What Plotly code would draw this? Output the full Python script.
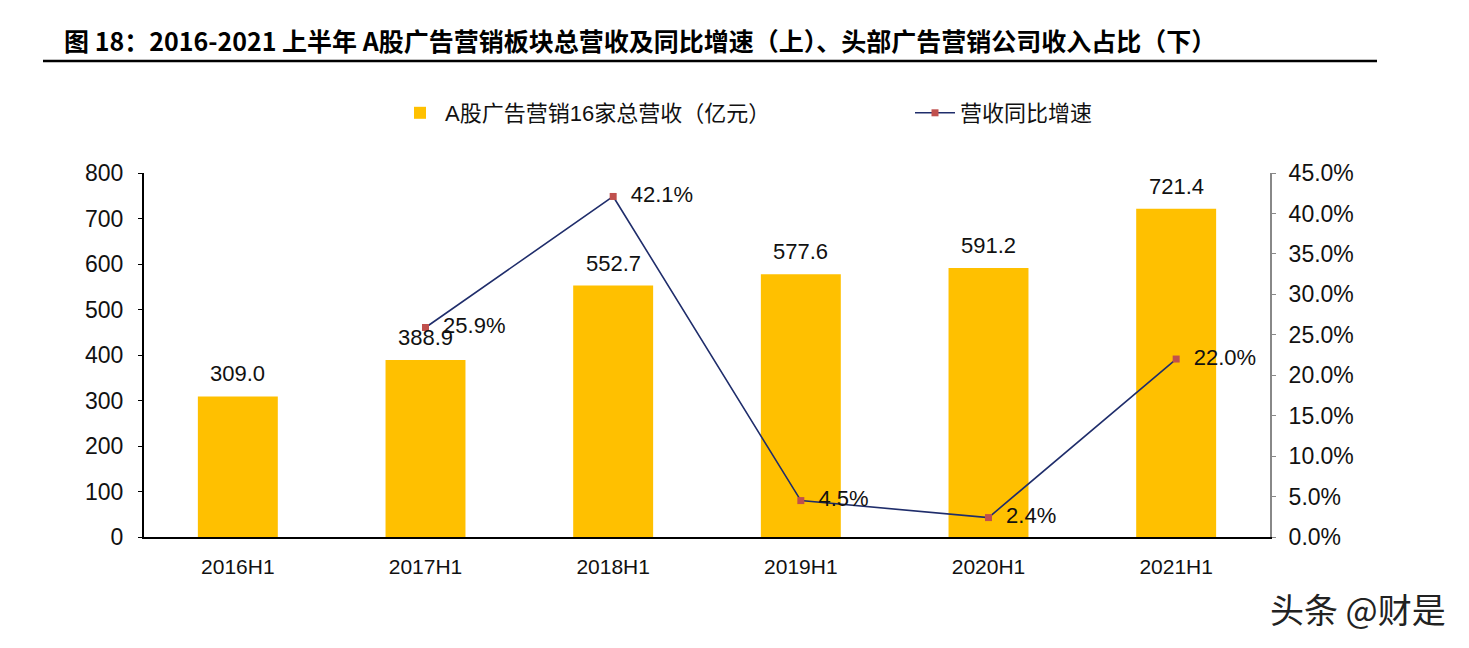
import plotly.graph_objects as go

categories = ["2016H1", "2017H1", "2018H1", "2019H1", "2020H1", "2021H1"]
revenue = [309.0, 388.9, 552.7, 577.6, 591.2, 721.4]
growth_cats = ["2017H1", "2018H1", "2019H1", "2020H1", "2021H1"]
growth = [0.259, 0.421, 0.045, 0.024, 0.220]

title_text = "图 18：2016-2021 上半年 A股广告营销板块总营收及同比增速（上）、头部广告营销公司收入占比（下）"
bar_name = "A股广告营销16家总营收（亿元）"
line_name = "营收同比增速"
watermark = "头条 @财是"

FONT = "Liberation Sans, Arial, Noto Sans CJK SC, sans-serif"
CJK = "Noto Sans CJK SC, sans-serif"

fig = go.Figure()
fig.add_trace(go.Bar(
    x=categories, y=revenue, name=bar_name,
    marker=dict(color="#FFC000", line=dict(width=0)),
    yaxis="y", hoverinfo="skip",
))
fig.add_trace(go.Scatter(
    x=growth_cats, y=growth, name=line_name, yaxis="y2",
    mode="lines+markers+text",
    line=dict(color="#1F2D6B", width=1.6),
    marker=dict(symbol="square", size=7, color="#C0504D"),
    text=["  " + f"{v*100:.1f}%" for v in growth],
    textposition="middle right",
    textfont=dict(size=22, color="#111111", family=FONT),
    cliponaxis=False,
))

for c, v in zip(categories, revenue):
    fig.add_annotation(x=c, y=v, xref="x", yref="y", text=f"{v:.1f}",
                       showarrow=False, yanchor="bottom", yshift=8,
                       font=dict(size=22, color="#111111", family=FONT))

fig.add_annotation(x=62, y=40, xref="paper", yref="paper", text="<b>" + title_text + "</b>",
                   showarrow=False, xanchor="left", yanchor="middle",
                   font=dict(size=25, color="#000000", family=CJK))
fig.add_annotation(x=1448, y=608, xref="paper", yref="paper", text=watermark,
                   showarrow=False, xanchor="right", yanchor="middle",
                   font=dict(size=34, color="#222222", family=CJK))

# convert pixel annotations to paper coords
L, R, T, B = 144, 199, 173, 111
W, H = 1469, 648
pw, ph = W - L - R, H - T - B
for a in fig.layout.annotations[-2:]:
    a.x = (a.x - L) / pw
    a.y = 1 - (a.y - T) / ph

fig.add_shape(type="line", xref="paper", yref="paper",
              x0=(43 - L) / pw, x1=(1377 - L) / pw,
              y0=1 - (61 - T) / ph, y1=1 - (61 - T) / ph,
              line=dict(color="#000000", width=2.5))

fig.update_layout(
    width=W, height=H,
    margin=dict(l=L, r=R, t=T, b=B),
    paper_bgcolor="white", plot_bgcolor="white",
    font=dict(family=FONT, size=22, color="#111111"),
    bargap=0.574,
    showlegend=True,
    legend=dict(orientation="h", x=(395 - L) / pw, y=1 - (113 - T) / ph,
                xanchor="left", yanchor="middle",
                entrywidth=460, entrywidthmode="pixels",
                font=dict(size=22, family=FONT + ", " + CJK),
                itemwidth=40, bgcolor="rgba(0,0,0,0)"),
    xaxis=dict(showline=True, linecolor="#000000", linewidth=2,
               ticks="", showgrid=False, tickfont=dict(size=21),
               ticklabelstandoff=10, range=[-0.5, 5.5]),
    yaxis=dict(range=[0, 800], dtick=100, showline=True, linecolor="#000000",
               linewidth=2, ticks="outside", ticklen=4, tickcolor="#000000",
               showgrid=False, zeroline=False, tickfont=dict(size=23),
               ticklabelstandoff=10),
    yaxis2=dict(range=[0, 0.45], dtick=0.05, tickformat=".1%", overlaying="y",
                side="right", showline=True, linecolor="#888888", linewidth=2,
                ticks="outside", ticklen=4, tickcolor="#888888",
                showgrid=False, zeroline=False, tickfont=dict(size=23),
                ticklabelstandoff=8),
)

fig.write_html("out.html")
